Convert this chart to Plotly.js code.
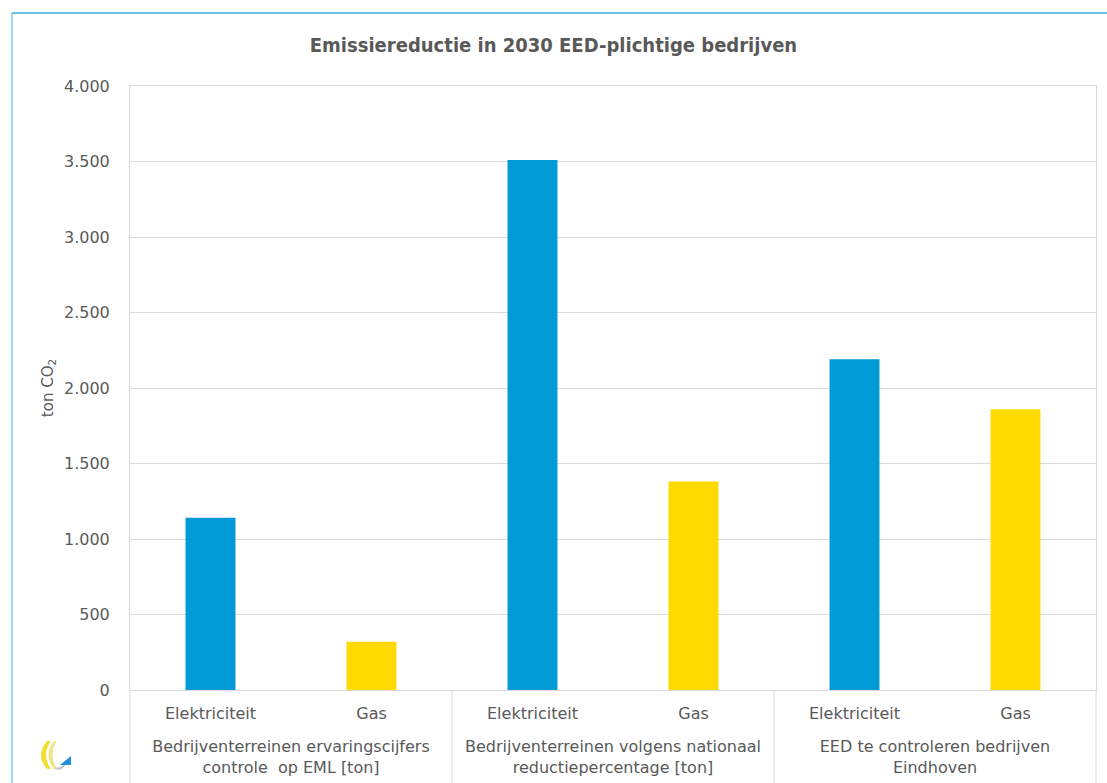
<!DOCTYPE html>
<html>
<head>
<meta charset="utf-8">
<script src="https://cdn.plot.ly/plotly-3.0.1.min.js"></script>
<style>
html,body{margin:0;padding:0;background:#fff;}
#chart{width:1107px;height:783px;}
</style>
</head>
<body>
<div id="chart"></div>
<script>
const groups = [
  "Bedrijventerreinen ervaringscijfers<br>controle  op EML [ton]",
  "Bedrijventerreinen volgens nationaal<br>reductiepercentage [ton]",
  "EED te controleren bedrijven<br>Eindhoven"
];
const subCategories = ["Elektriciteit", "Gas"];
const values = [1140, 320, 3510, 1380, 2190, 1860];
const barColors = ["#009BD7", "#FFDA00"];
const titleText = "Emissiereductie in 2030 EED-plichtige bedrijven";
const yTitle = "ton CO<sub>2</sub>";
const yTicks = [0, 500, 1000, 1500, 2000, 2500, 3000, 3500, 4000];

const xGroup = [], xSub = [], colors = [];
// leading line break only adds vertical spacing between the two label rows
groups.forEach(g => subCategories.forEach((s, i) => { xGroup.push("<br>" + g); xSub.push(s); colors.push(barColors[i]); }));

// pixel -> paper helpers for decorative shapes (plot area 130..1096 x 86..690)
const L = 130, R = 11, T = 86, B = 93, W = 1107, H = 783;
const pw = W - L - R, ph = H - T - B;
const px = x => ((x - L) / pw).toFixed(4);
const py = y => ((H - B - y) / ph).toFixed(4);

const FONT = "DejaVu Sans, Verdana, sans-serif";
const trace = {
  type: "bar",
  x: [xGroup, xSub],
  y: values,
  marker: {color: colors, line: {width: 0}},
  width: 0.31,
  hoverinfo: "y"
};

const dividerShapes = [0, 1/3, 2/3, 1].map(f => ({
  type: "line", xref: "paper", yref: "paper", x0: f, x1: f, y0: 0, y1: py(783),
  line: {color: "#d9d9d9", width: 1}
}));

const layout = {
  width: W, height: H,
  margin: {l: L, r: R, t: T, b: B, pad: 0},
  paper_bgcolor: "#ffffff", plot_bgcolor: "#ffffff",
  separators: ",.",
  showlegend: false,
  font: {family: FONT, color: "#595959", size: 16},
  title: {text: "<b>" + titleText + "</b>", x: 0.5, xref: "container", xanchor: "center",
          y: 1 - 45 / H, yref: "container", yanchor: "middle",
          font: {family: "DejaVu Sans Condensed, DejaVu Sans, sans-serif", size: 20, color: "#595959"}},
  xaxis: {
    type: "multicategory",
    showline: true, linecolor: "#d9d9d9", linewidth: 1, mirror: true,
    showgrid: false, ticks: "",
    showdividers: false,
    ticklabelstandoff: 9,
    tickfont: {family: FONT, size: 16, color: "#595959"}
  },
  yaxis: {
    range: [0, 4000], tickvals: yTicks, tickformat: ",d",
    showline: true, linecolor: "#d9d9d9", linewidth: 1, mirror: true,
    gridcolor: "#d9d9d9", gridwidth: 1, zeroline: false,
    ticks: "", ticklen: 0, ticklabelstandoff: 16,
    tickfont: {family: FONT, size: 16, color: "#595959"},
    title: {text: yTitle, standoff: 6, font: {family: FONT, size: 15, color: "#595959"}}
  },
  shapes: dividerShapes.concat([
    {type: "line", xref: "paper", yref: "paper", x0: px(12), x1: px(1110), y0: py(13), y1: py(13),
     line: {color: "#3FA9DC", width: 1.5}},
    {type: "line", xref: "paper", yref: "paper", x0: px(12), x1: px(12), y0: py(13), y1: py(790),
     line: {color: "#7FCBEF", width: 1.5}},
    {type: "path", xref: "paper", yref: "paper",
     path: `M ${px(47)} ${py(741)} Q ${px(35)} ${py(755)} ${px(47)} ${py(769)} L ${px(51)} ${py(769)} Q ${px(41)} ${py(755)} ${px(51)} ${py(741)} Z`,
     fillcolor: "#F2DE2E", line: {width: 0}},
    {type: "path", xref: "paper", yref: "paper",
     path: `M ${px(54)} ${py(741)} Q ${px(43)} ${py(755)} ${px(54)} ${py(769)} L ${px(57)} ${py(769)} Q ${px(48)} ${py(755)} ${px(57)} ${py(741)} Z`,
     fillcolor: "#EFE58A", line: {width: 0}},
    {type: "path", xref: "paper", yref: "paper",
     path: `M ${px(55)} ${py(769)} Q ${px(62)} ${py(772)} ${px(66)} ${py(764)} L ${px(64)} ${py(763)} Q ${px(61)} ${py(769)} ${px(55)} ${py(767)} Z`,
     fillcolor: "#C8C8C8", line: {width: 0}},
    {type: "path", xref: "paper", yref: "paper",
     path: `M ${px(60)} ${py(765)} L ${px(71)} ${py(765)} L ${px(71)} ${py(756)} Z`,
     fillcolor: "#1E8FD8", line: {width: 0}}
  ])
};

Plotly.newPlot("chart", [trace], layout, {displayModeBar: false, staticPlot: true});
</script>
</body>
</html>
